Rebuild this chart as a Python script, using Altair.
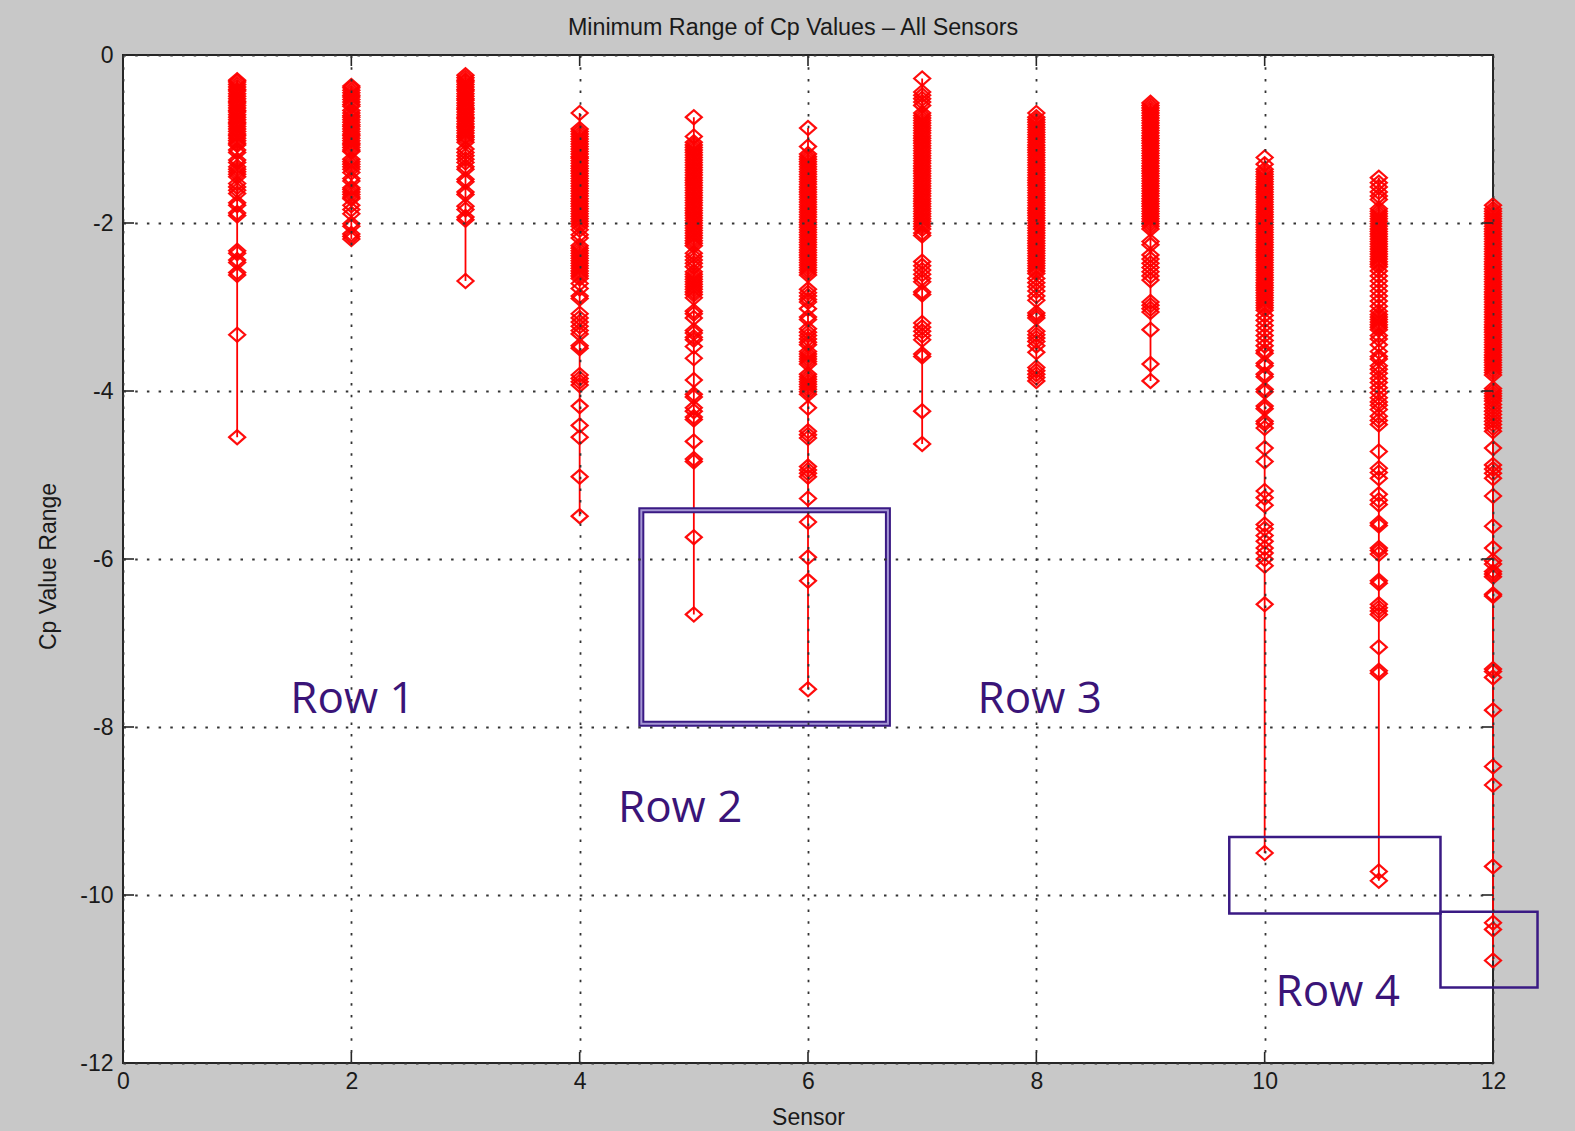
import altair as alt
import pandas as pd

sensors = list(range(1, 13))

s1 = [-0.30,-0.32,-0.35,-0.38,-0.41,-0.43,-0.46,-0.49,-0.52,-0.55,-0.57,-0.60,-0.63,-0.66,-0.68,-0.71,-0.74,-0.77,-0.80,-0.82,-0.85,-0.88,-0.91,-0.94,-0.96,-0.99,-1.02,-1.05,-1.07,-1.13,-1.16,-1.25,-1.28,-1.33,-1.36,-1.39,-1.42,-1.45,-1.53,-1.57,-1.61,-1.65,-1.76,-1.79,-1.88,-1.91,-2.33,-2.36,-2.44,-2.47,-2.59,-2.62,-3.33,-4.55]
s2 = [-0.37,-0.39,-0.42,-0.45,-0.48,-0.50,-0.53,-0.56,-0.59,-0.61,-0.66,-0.69,-0.72,-0.74,-0.77,-0.80,-0.83,-0.85,-0.88,-0.91,-0.94,-0.96,-0.99,-1.02,-1.05,-1.07,-1.10,-1.13,-1.15,-1.24,-1.27,-1.30,-1.33,-1.36,-1.40,-1.47,-1.50,-1.58,-1.60,-1.63,-1.66,-1.69,-1.71,-1.79,-1.84,-1.89,-2.01,-2.04,-2.13,-2.16,-2.19]
s3 = [-0.24,-0.27,-0.30,-0.32,-0.35,-0.38,-0.41,-0.43,-0.46,-0.49,-0.52,-0.54,-0.57,-0.60,-0.63,-0.65,-0.68,-0.71,-0.74,-0.76,-0.79,-0.82,-0.85,-0.87,-0.90,-0.93,-0.96,-0.98,-1.01,-1.04,-1.12,-1.16,-1.20,-1.24,-1.28,-1.33,-1.36,-1.48,-1.51,-1.63,-1.66,-1.80,-1.84,-1.93,-1.96,-2.69]
s4 = [-0.69,-0.88,-0.91,-0.94,-0.97,-1.00,-1.03,-1.06,-1.09,-1.12,-1.15,-1.18,-1.21,-1.23,-1.26,-1.29,-1.32,-1.35,-1.38,-1.41,-1.44,-1.47,-1.50,-1.53,-1.56,-1.59,-1.62,-1.65,-1.68,-1.71,-1.74,-1.77,-1.80,-1.83,-1.86,-1.89,-1.92,-1.95,-1.98,-2.01,-2.04,-2.08,-2.14,-2.18,-2.27,-2.30,-2.33,-2.36,-2.39,-2.42,-2.45,-2.48,-2.51,-2.54,-2.57,-2.60,-2.63,-2.66,-2.72,-2.78,-2.87,-2.90,-3.08,-3.13,-3.18,-3.23,-3.28,-3.32,-3.46,-3.49,-3.81,-3.85,-3.89,-3.93,-4.18,-4.41,-4.55,-5.02,-5.49]
s5 = [-0.74,-0.97,-1.04,-1.07,-1.10,-1.13,-1.16,-1.19,-1.22,-1.25,-1.28,-1.31,-1.34,-1.37,-1.40,-1.43,-1.46,-1.49,-1.52,-1.55,-1.58,-1.61,-1.64,-1.67,-1.70,-1.73,-1.76,-1.79,-1.82,-1.85,-1.88,-1.91,-1.94,-1.97,-2.00,-2.03,-2.06,-2.09,-2.12,-2.15,-2.18,-2.21,-2.24,-2.27,-2.36,-2.40,-2.44,-2.48,-2.52,-2.58,-2.61,-2.64,-2.67,-2.70,-2.73,-2.76,-2.79,-2.82,-2.85,-2.89,-3.05,-3.08,-3.13,-3.28,-3.31,-3.36,-3.39,-3.47,-3.61,-3.87,-4.04,-4.07,-4.20,-4.24,-4.31,-4.34,-4.60,-4.81,-4.84,-5.74,-6.66]
s6 = [-0.87,-1.09,-1.18,-1.21,-1.24,-1.27,-1.30,-1.33,-1.36,-1.39,-1.42,-1.45,-1.48,-1.51,-1.54,-1.57,-1.60,-1.63,-1.66,-1.69,-1.72,-1.75,-1.78,-1.81,-1.84,-1.87,-1.90,-1.93,-1.96,-1.99,-2.02,-2.05,-2.08,-2.11,-2.14,-2.17,-2.20,-2.23,-2.26,-2.29,-2.32,-2.35,-2.38,-2.41,-2.44,-2.47,-2.50,-2.53,-2.56,-2.59,-2.62,-2.79,-2.83,-2.87,-2.91,-2.94,-3.02,-3.12,-3.15,-3.26,-3.30,-3.34,-3.38,-3.42,-3.45,-3.53,-3.56,-3.59,-3.62,-3.65,-3.68,-3.80,-3.83,-3.86,-3.89,-3.92,-3.95,-3.98,-4.01,-4.04,-4.20,-4.48,-4.52,-4.56,-4.90,-4.94,-4.98,-5.02,-5.28,-5.56,-5.98,-6.26,-7.55]
s7 = [-0.28,-0.44,-0.48,-0.52,-0.56,-0.60,-0.69,-0.72,-0.75,-0.78,-0.81,-0.84,-0.87,-0.90,-0.93,-0.96,-0.99,-1.02,-1.05,-1.08,-1.11,-1.14,-1.17,-1.20,-1.23,-1.26,-1.29,-1.32,-1.35,-1.38,-1.41,-1.44,-1.47,-1.50,-1.53,-1.56,-1.59,-1.62,-1.65,-1.68,-1.71,-1.74,-1.77,-1.80,-1.83,-1.86,-1.89,-1.92,-1.95,-1.98,-2.01,-2.04,-2.07,-2.12,-2.15,-2.46,-2.51,-2.56,-2.61,-2.66,-2.70,-2.82,-2.85,-3.19,-3.24,-3.29,-3.34,-3.39,-3.56,-3.59,-4.24,-4.63]
s8 = [-0.69,-0.74,-0.77,-0.80,-0.83,-0.86,-0.89,-0.92,-0.95,-0.98,-1.01,-1.04,-1.07,-1.10,-1.13,-1.16,-1.19,-1.22,-1.25,-1.28,-1.31,-1.34,-1.37,-1.40,-1.43,-1.46,-1.49,-1.52,-1.55,-1.58,-1.61,-1.64,-1.67,-1.70,-1.73,-1.76,-1.79,-1.82,-1.85,-1.88,-1.91,-1.94,-1.97,-2.00,-2.03,-2.06,-2.09,-2.12,-2.15,-2.18,-2.21,-2.24,-2.27,-2.30,-2.33,-2.36,-2.39,-2.42,-2.45,-2.48,-2.51,-2.54,-2.57,-2.60,-2.66,-2.71,-2.76,-2.81,-2.87,-2.92,-3.07,-3.10,-3.13,-3.29,-3.33,-3.37,-3.41,-3.46,-3.54,-3.72,-3.76,-3.80,-3.84,-3.88]
s9 = [-0.57,-0.60,-0.63,-0.66,-0.69,-0.72,-0.75,-0.78,-0.81,-0.84,-0.87,-0.90,-0.93,-0.96,-0.99,-1.02,-1.05,-1.08,-1.11,-1.14,-1.17,-1.20,-1.23,-1.26,-1.29,-1.32,-1.35,-1.38,-1.41,-1.44,-1.47,-1.50,-1.53,-1.56,-1.59,-1.62,-1.65,-1.68,-1.71,-1.74,-1.77,-1.80,-1.83,-1.86,-1.89,-1.92,-1.95,-1.98,-2.01,-2.04,-2.07,-2.22,-2.26,-2.38,-2.43,-2.48,-2.53,-2.58,-2.63,-2.68,-2.94,-2.98,-3.02,-3.06,-3.27,-3.68,-3.88]
s10 = [-1.22,-1.30,-1.36,-1.39,-1.42,-1.45,-1.48,-1.51,-1.54,-1.57,-1.60,-1.63,-1.66,-1.69,-1.72,-1.75,-1.78,-1.81,-1.84,-1.87,-1.90,-1.93,-1.96,-1.99,-2.02,-2.05,-2.08,-2.11,-2.14,-2.17,-2.20,-2.23,-2.26,-2.29,-2.32,-2.35,-2.38,-2.41,-2.44,-2.47,-2.50,-2.53,-2.56,-2.59,-2.62,-2.65,-2.68,-2.71,-2.74,-2.77,-2.80,-2.83,-2.86,-2.89,-2.92,-2.95,-2.98,-3.01,-3.04,-3.10,-3.16,-3.22,-3.28,-3.34,-3.40,-3.46,-3.52,-3.55,-3.67,-3.70,-3.80,-3.83,-3.98,-4.01,-4.18,-4.21,-4.36,-4.39,-4.44,-4.68,-4.84,-5.19,-5.27,-5.36,-5.59,-5.64,-5.72,-5.79,-5.87,-5.93,-6.00,-6.08,-6.54,-9.50]
s11 = [-1.46,-1.52,-1.57,-1.63,-1.68,-1.72,-1.83,-1.86,-1.89,-1.92,-1.95,-1.98,-2.01,-2.04,-2.07,-2.10,-2.13,-2.16,-2.19,-2.22,-2.25,-2.28,-2.31,-2.34,-2.37,-2.40,-2.43,-2.46,-2.49,-2.52,-2.57,-2.63,-2.69,-2.75,-2.81,-2.87,-2.93,-2.99,-3.05,-3.09,-3.12,-3.15,-3.18,-3.21,-3.24,-3.27,-3.34,-3.38,-3.45,-3.53,-3.59,-3.62,-3.70,-3.74,-3.79,-3.85,-3.90,-3.96,-4.02,-4.08,-4.13,-4.17,-4.22,-4.30,-4.35,-4.40,-4.72,-4.92,-4.97,-5.04,-5.23,-5.30,-5.35,-5.57,-5.60,-5.87,-5.90,-5.94,-6.26,-6.29,-6.54,-6.58,-6.62,-6.66,-7.05,-7.33,-7.36,-9.72,-9.83]
s12 = [-1.79,-1.83,-1.86,-1.89,-1.92,-1.95,-1.98,-2.01,-2.04,-2.07,-2.10,-2.13,-2.16,-2.19,-2.22,-2.25,-2.28,-2.31,-2.34,-2.37,-2.40,-2.43,-2.46,-2.49,-2.52,-2.55,-2.58,-2.61,-2.64,-2.67,-2.70,-2.73,-2.76,-2.79,-2.82,-2.85,-2.88,-2.91,-2.94,-2.97,-3.00,-3.03,-3.06,-3.09,-3.12,-3.15,-3.18,-3.21,-3.24,-3.27,-3.30,-3.33,-3.36,-3.39,-3.42,-3.45,-3.48,-3.51,-3.54,-3.57,-3.60,-3.63,-3.66,-3.69,-3.72,-3.75,-3.78,-3.81,-3.97,-4.00,-4.03,-4.06,-4.09,-4.12,-4.16,-4.20,-4.24,-4.28,-4.32,-4.36,-4.40,-4.44,-4.48,-4.68,-4.88,-4.93,-4.98,-5.04,-5.25,-5.61,-5.87,-6.02,-6.06,-6.15,-6.18,-6.21,-6.42,-6.44,-7.31,-7.34,-7.41,-7.80,-8.47,-8.69,-9.66,-10.33,-10.41,-10.78]

series = [s1, s2, s3, s4, s5, s6, s7, s8, s9, s10, s11, s12]

x_ticks = [0, 2, 4, 6, 8, 10, 12]
y_ticks = [0, -2, -4, -6, -8, -10, -12]

row_labels = ["Row 1", "Row 2", "Row 3", "Row 4"]
row_x = [2.01, 4.88, 8.03, 10.64]
row_y = [-7.59, -8.89, -7.59, -11.08]

big_box_x = [4.54]
big_box_x2 = [6.70]
big_box_y = [-5.42]
big_box_y2 = [-7.96]

small_box_x = [9.69, 11.54]
small_box_x2 = [11.54, 12.39]
small_box_y = [-9.31, -10.20]
small_box_y2 = [-10.22, -11.10]

rows = [{"sensor": s, "cp": v} for s, vals in zip(sensors, series) for v in vals]
df = pd.DataFrame(rows)

W, H = 1370, 1008
FONT = "Liberation Sans, Arial, Helvetica, sans-serif"
RED = "#ff0000"
PURPLE = "#3a1a84"

xs = alt.Scale(domain=[0, 12], nice=False, zero=False)
ys = alt.Scale(domain=[-12, 0], nice=False, zero=False)

x_axis = alt.Axis(values=x_ticks, grid=True, gridDash=[2.5, 9.2], gridColor="#333333",
                  gridWidth=1.8, domain=False, ticks=False, labelPadding=7, labelFlush=False,
                  labelFontSize=23, labelFont=FONT, labelColor="#1a1a1a",
                  labelExpr="toString(datum.value)",
                  title="Sensor", titleFontSize=23, titleFont=FONT, titleFontWeight="normal",
                  titleColor="#1a1a1a", titleY=54, titleBaseline="middle", zindex=1)
y_axis = alt.Axis(values=y_ticks, grid=True, gridDash=[2.5, 9.2], gridColor="#333333",
                  gridWidth=1.8, domain=False, ticks=False, labelPadding=10, labelFlush=False,
                  labelFontSize=23, labelFont=FONT, labelColor="#1a1a1a",
                  labelExpr="toString(datum.value)",
                  title="Cp Value Range", titleFontSize=23, titleFont=FONT,
                  titleFontWeight="normal", titleColor="#1a1a1a", titleX=-63, titleY=511,
                  titleAlign="center", titleBaseline="bottom", zindex=1)


def X(field):
    return alt.X(field, scale=xs, axis=x_axis)


def Y(field):
    return alt.Y(field, scale=ys, axis=y_axis)


stems = alt.Chart(df).mark_rule(color=RED, strokeWidth=1.8).encode(
    x=X("sensor:Q"), y=Y("min(cp):Q"), y2="max(cp):Q",
)

diamond = "M-1,0L0,-0.88L1,0L0,0.88Z"
points = alt.Chart(df).mark_point(shape=diamond, size=256, filled=False, color=RED,
                                  strokeWidth=2.2, opacity=0.95).encode(
    x=X("sensor:Q"), y=Y("cp:Q"),
)

big_df = pd.DataFrame({"x": big_box_x, "x2": big_box_x2, "y": big_box_y, "y2": big_box_y2})
big_outer = alt.Chart(big_df).mark_rect(fillOpacity=0, stroke=PURPLE, strokeWidth=6).encode(
    x=X("x:Q"), x2="x2:Q", y=Y("y:Q"), y2="y2:Q",
)
big_inner = alt.Chart(big_df).mark_rect(fillOpacity=0, stroke="#a597d4", strokeWidth=2).encode(
    x=X("x:Q"), x2="x2:Q", y=Y("y:Q"), y2="y2:Q",
)

small_df = pd.DataFrame({"x": small_box_x, "x2": small_box_x2, "y": small_box_y, "y2": small_box_y2})
small_boxes = alt.Chart(small_df).mark_rect(fillOpacity=0, stroke=PURPLE, strokeWidth=2.5).encode(
    x=X("x:Q"), x2="x2:Q", y=Y("y:Q"), y2="y2:Q",
)

label_df = pd.DataFrame({"label": row_labels, "x": row_x, "y": row_y})
labels = alt.Chart(label_df).mark_text(font="Open Sans", fontSize=44, color="#3a1478",
                                       align="center", baseline="middle", dy=7).encode(
    x=X("x:Q"), y=Y("y:Q"), text="label:N",
)

xt = pd.DataFrame({"t": x_ticks})
yt = pd.DataFrame({"t": y_ticks})
TK = 11
tick_bottom = alt.Chart(xt).mark_rule(color="#262626", strokeWidth=1.6).encode(
    x=X("t:Q"), y=alt.value(H), y2=alt.value(H - TK))
tick_top = alt.Chart(xt).mark_rule(color="#262626", strokeWidth=1.6).encode(
    x=X("t:Q"), y=alt.value(0), y2=alt.value(TK))
tick_left = alt.Chart(yt).mark_rule(color="#262626", strokeWidth=1.6).encode(
    y=Y("t:Q"), x=alt.value(0), x2=alt.value(TK))
tick_right = alt.Chart(yt).mark_rule(color="#262626", strokeWidth=1.6).encode(
    y=Y("t:Q"), x=alt.value(W - TK), x2=alt.value(W))

chart = alt.layer(
    stems, points, big_outer, big_inner, small_boxes, labels,
    tick_bottom, tick_top, tick_left, tick_right,
).properties(
    width=W, height=H,
    title=alt.TitleParams("Minimum Range of Cp Values \u2013 All Sensors", fontSize=23.3,
                          font=FONT, fontWeight="normal", color="#1a1a1a", offset=4,
                          dx=-15, anchor="middle"),
    autosize=alt.AutoSizeParams(type="none"),
    padding={"left": 123, "top": 55, "right": 82, "bottom": 68},
    background="#c8c8c8",
).configure_view(
    stroke="#262626", strokeWidth=2, fill="white",
)

chart.save("out.html", embed_options={"renderer": "svg", "actions": False})
